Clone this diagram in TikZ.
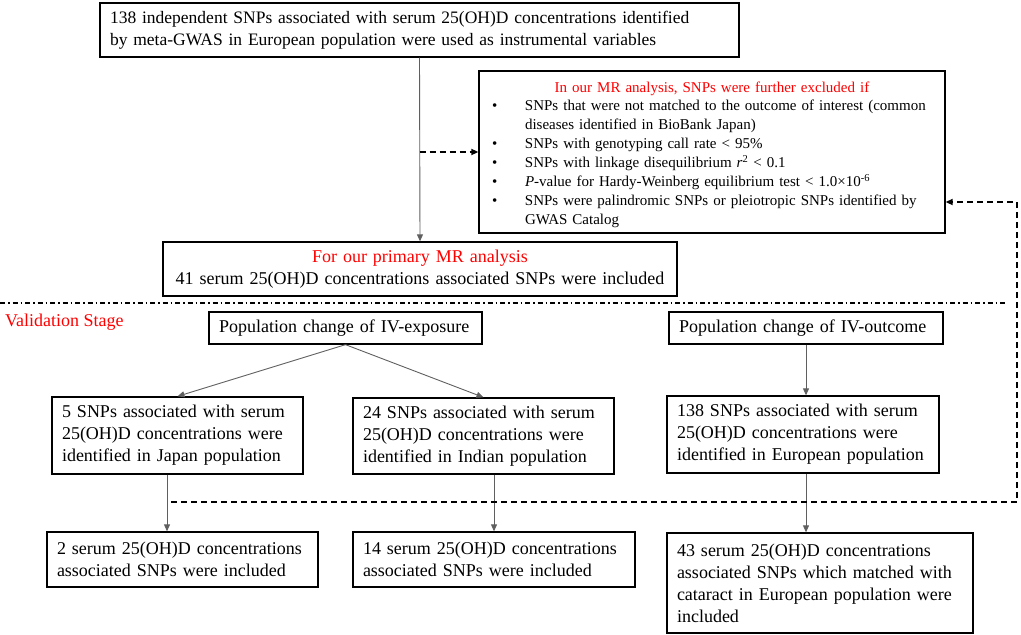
\documentclass[tikz,border=0pt]{standalone}
\usepackage{fontspec}
\setmainfont{Liberation Serif}
\usepackage{xcolor}
\usepackage{tikz}
\usetikzlibrary{arrows.meta, positioning}

\definecolor{mrred}{RGB}{255,0,0}
\definecolor{linegray}{RGB}{95,95,95}

\tikzset{
  box/.style={draw, line width=1.3pt, inner xsep=10pt, inner ysep=0pt,
    font=\fontsize{18}{22}\selectfont, align=left},
  arr/.style={draw=linegray, line width=0.9pt, -{Triangle[length=7pt,width=6pt]}},
  dasharr/.style={draw=black, line width=1.6pt, dash pattern=on 6pt off 4pt,
    -{Triangle[length=7pt,width=6pt]}},
}

\begin{document}
\begin{tikzpicture}[x=1pt,y=-1pt]
  \useasboundingbox (0,0) rectangle (1021,635);

  % discovery stage
  \node[box, text width=619, minimum height=54, font=\fontsize{17.5}{22}\selectfont] (top) at (419.5,30)
    {138 independent SNPs associated with serum 25(OH)D concentrations identified\\
     by meta-GWAS in European population were used as instrumental variables};
  \node[box, text width=446, minimum height=162, font=\fontsize{15}{19}\selectfont] (excl) at (712,152)
    {\centering\rule{0pt}{19pt}\textcolor{mrred}{In our MR analysis, SNPs were further excluded if}\par
     \begin{tabular}{@{}p{36pt}@{}p{405pt}@{}}
     \hspace{3pt}• & SNPs that were not matched to the outcome of interest (common\linebreak
       diseases identified in BioBank Japan)\\
     \hspace{3pt}• & SNPs with genotyping call rate < 95\%\\
     \hspace{3pt}• & SNPs with linkage disequilibrium \textit{r}\textsuperscript{2} < 0.1\\
     \hspace{3pt}• & \textit{P}-value for Hardy-Weinberg equilibrium test < 1.0×10\textsuperscript{-6}\\
     \hspace{3pt}• & SNPs were palindromic SNPs or pleiotropic SNPs identified by\linebreak
       GWAS Catalog
     \end{tabular}};
  \node[box, text width=494, minimum height=54, align=center] (primary) at (420,269)
    {\textcolor{mrred}{For our primary MR analysis}\\
     41 serum 25(OH)D concentrations associated SNPs were included};

  \coordinate (split) at (top.south |- excl.west);
  \draw[arr] (top.south) -- (primary.north);
  \draw[dasharr] (split) -- (excl.west);

  % validation stage
  \draw[line width=1.3pt, dash pattern=on 5pt off 3pt on 1.5pt off 3pt] (0,303) -- (1007,303);
  \node[anchor=west, text=mrred, font=\fontsize{18}{22}\selectfont, inner sep=0pt] (valid) at (5,322) {Validation Stage};

  \node[box, text width=253, minimum height=32] (expo) at (345.5,328) {Population change of IV-exposure};
  \node[box, text width=254, minimum height=32] (outc) at (806,328) {Population change of IV-outcome};

  \node[box, text width=231, minimum height=77] (japan) at (177.5,435.5)
    {5 SNPs associated with serum\\ 25(OH)D concentrations were\\ identified in Japan population};
  \node[box, text width=241, minimum height=76] (india) at (483.5,436)
    {24 SNPs associated with serum\\ 25(OH)D concentrations were\\ identified in Indian population};
  \node[box, text width=252, minimum height=77] (euro) at (803,434.5)
    {138 SNPs associated with serum\\ 25(OH)D concentrations were\\ identified in European population};

  \node[box, text width=251, minimum height=55] (res2) at (182.5,559.5)
    {2 serum 25(OH)D concentrations\\ associated SNPs were included};
  \node[box, text width=262, minimum height=55] (res14) at (494,559.5)
    {14 serum 25(OH)D concentrations\\ associated SNPs were included};
  \node[box, text width=286, minimum height=100] (res43) at (820,583)
    {43 serum 25(OH)D concentrations\\ associated SNPs which matched with\\ cataract in European population were\\ included};

  \draw[arr] (expo.south) -- (japan.north);
  \draw[arr] (expo.south) -- (india.north);
  \draw[arr] (outc.south) -- (euro.north -| outc.south);

  \coordinate (jx) at (167,0);
  \draw[arr] (japan.south -| jx) -- (res2.north -| jx);
  \draw[arr] (india.south -| res14.north) -- (res14.north);
  \draw[arr] (euro.south -| outc.south) -- (res43.north -| outc.south);

  % feedback to exclusion criteria
  \coordinate (fbstart) at (171,502);
  \coordinate (fbcorner) at (1017,202);
  \draw[dasharr] (fbstart) -| (fbcorner) -- (fbcorner -| excl.east);
\end{tikzpicture}
\end{document}
